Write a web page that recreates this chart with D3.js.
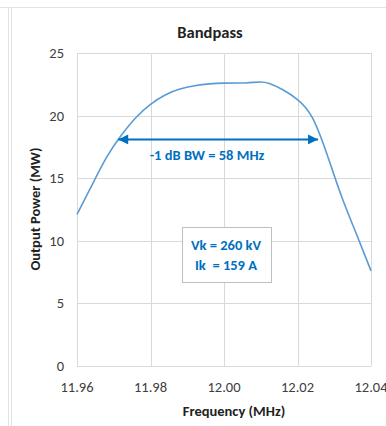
<!DOCTYPE html>
<html><head><meta charset="utf-8">
<script src="https://cdn.jsdelivr.net/npm/d3@7"></script>
<style>body{margin:0;background:#fff}svg{display:block}</style>
</head><body>
<script>
const freqs = [11.96,11.964,11.968,11.972,11.976,11.98,11.984,11.988,11.992,11.996,12.0,12.004,12.006,12.008,12.010,12.012,12.016,12.02,12.024,12.028,12.032,12.036,12.04];
const power = [12.1,14.4,16.75,18.45,19.9,20.95,21.7,22.15,22.4,22.55,22.6,22.6,22.6,22.65,22.7,22.65,22.1,21.35,20.2,17.0,13.4,10.6,7.6];
const xTicks = [11.96,11.98,12.00,12.02,12.04];
const yTicks = [0,5,10,15,20,25];
const bwStart = 11.9712, bwEnd = 12.0256, bwLevel = 18.1;
const titleText = "Bandpass";
const xTitle = "Frequency (MHz)";
const yTitle = "Output Power (MW)";
const bwLabel = "-1 dB BW = 58 MHz";
const infoLines = ["Vk = 260 kV", "Ik  = 159 A"];

const W=386,H=426;
const svg=d3.select("body").append("svg").attr("width",W).attr("height",H);
const FONT="Carlito, Calibri, Lato, 'Open Sans', sans-serif";

// frame
svg.append("line").attr("x1",0).attr("x2",W).attr("y1",7.5).attr("y2",7.5).attr("stroke","#e3e3e3");
svg.append("line").attr("x1",8.5).attr("x2",8.5).attr("y1",7).attr("y2",H).attr("stroke","#e3e3e3");
svg.append("line").attr("x1",11.5).attr("x2",11.5).attr("y1",7).attr("y2",H).attr("stroke","#e3e3e3");

const x=d3.scaleLinear().domain([11.96,12.04]).range([77,371]);
const y=d3.scaleLinear().domain([0,25]).range([366,53]);

const g=svg.append("g");
g.selectAll(".vg").data(xTicks).join("line")
 .attr("x1",d=>Math.round(x(d))+0.5).attr("x2",d=>Math.round(x(d))+0.5)
 .attr("y1",y(25)).attr("y2",y(0)).attr("stroke","#d9d9d9");
g.selectAll(".hg").data(yTicks).join("line")
 .attr("y1",d=>Math.round(y(d))+0.5).attr("y2",d=>Math.round(y(d))+0.5)
 .attr("x1",x(11.96)).attr("x2",x(12.04)).attr("stroke","#d9d9d9");

// tick labels
svg.selectAll(".yl").data(yTicks).join("text")
 .attr("x",64).attr("y",d=>y(d)).attr("dy","0.35em").attr("text-anchor","end")
 .attr("font-family",FONT).attr("font-size",14.5).attr("fill","#404040").text(d=>d);
svg.selectAll(".xl").data(xTicks).join("text")
 .attr("x",d=>x(d)).attr("y",387).attr("dy","0.35em").attr("text-anchor","middle")
 .attr("font-family",FONT).attr("font-size",14.5).attr("fill","#404040").text(d=>d.toFixed(2));

// titles
svg.append("text").attr("x",210).attr("y",32).attr("dy","0.35em").attr("text-anchor","middle")
 .attr("font-family",FONT).attr("font-weight","bold").attr("font-size",16.5).attr("fill","#222").text(titleText);
svg.append("text").attr("x",234).attr("y",411).attr("dy","0.35em").attr("text-anchor","middle")
 .attr("font-family",FONT).attr("font-weight","bold").attr("font-size",14.5).attr("fill","#222").text(xTitle);
svg.append("text").attr("transform","translate(35,209) rotate(-90)").attr("dy","0.35em").attr("text-anchor","middle")
 .attr("font-family",FONT).attr("font-weight","bold").attr("font-size",14.5).attr("fill","#222").text(yTitle);

// curve
const line=d3.line().x((d,i)=>x(freqs[i])).y(d=>y(d)).curve(d3.curveBasis);
svg.append("path").datum(power).attr("d",line).attr("fill","none").attr("stroke","#5B9BD5").attr("stroke-width",1.6);

// arrow
const blue="#0070C0";
const defs=svg.append("defs");
defs.append("marker").attr("id","ah").attr("viewBox","0 0 10 10").attr("refX",10).attr("refY",5)
 .attr("markerWidth",6).attr("markerHeight",5).attr("orient","auto-start-reverse").attr("markerUnits","strokeWidth")
 .append("path").attr("d","M0,0L10,5L0,10Z").attr("fill",blue);
svg.append("line").attr("x1",x(bwStart)).attr("x2",x(bwEnd)).attr("y1",y(bwLevel)).attr("y2",y(bwLevel))
 .attr("stroke",blue).attr("stroke-width",2).attr("marker-start","url(#ah)").attr("marker-end","url(#ah)");
svg.append("text").attr("x",207).attr("y",155).attr("dy","0.35em").attr("text-anchor","middle")
 .attr("font-family",FONT).attr("font-weight","bold").attr("font-size",14.5).attr("fill",blue).text(bwLabel);

// info box
svg.append("rect").attr("x",182.5).attr("y",227.5).attr("width",89).attr("height",55)
 .attr("fill","#fff").attr("stroke","#bfbfbf");
svg.selectAll(".info").data(infoLines).join("text")
 .attr("x",226).attr("y",(d,i)=>245+i*20).attr("dy","0.35em").attr("text-anchor","middle")
 .attr("font-family",FONT).attr("font-weight","bold").attr("font-size",14.5).attr("fill",blue)
 .attr("xml:space","preserve").style("white-space","pre").text(d=>d);
</script>
</body></html>
